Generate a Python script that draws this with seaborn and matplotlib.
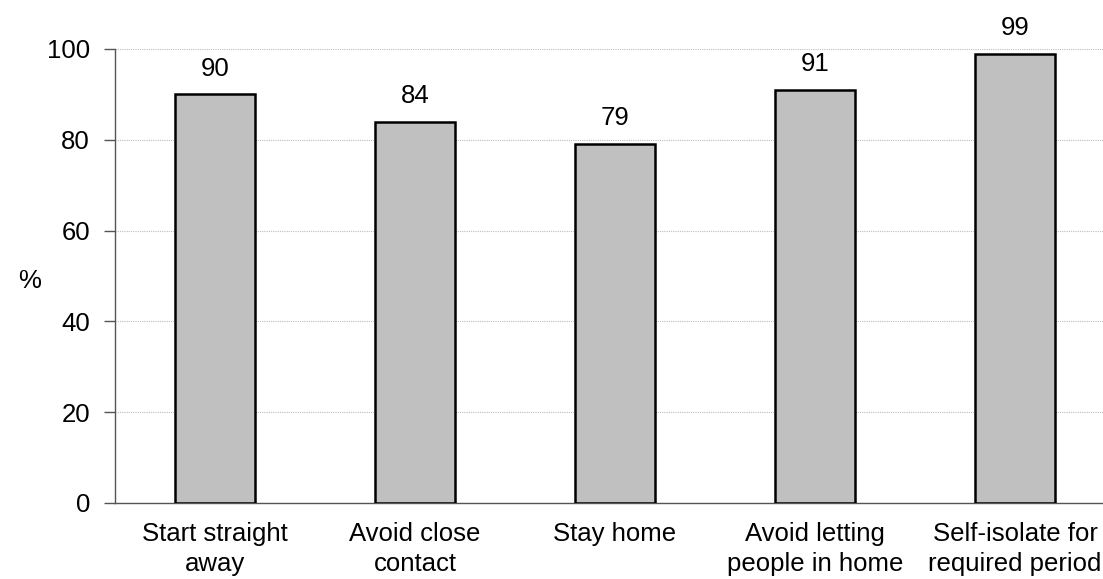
import matplotlib
matplotlib.use("Agg")
import matplotlib.pyplot as plt
import seaborn as sns
import pandas as pd
import numpy as np

categories = ["Start straight\naway", "Avoid close\ncontact", "Stay home",
              "Avoid letting\npeople in home", "Self-isolate for\nrequired period"]
values = [90, 84, 79, 91, 99]
yticks = [0, 20, 40, 60, 80, 100]

sns.set_theme(style="white")
plt.rcParams['font.family'] = ['Liberation Sans', 'DejaVu Sans']

FS = 18.5
df = pd.DataFrame({"cat": categories, "val": values})

fig = plt.figure(figsize=(11.03, 5.79), dpi=100)
ax = fig.add_axes([115/1103, 76/579, 1000/1103, 454/579])

sns.barplot(data=df, x="cat", y="val", color="#C0C0C0", edgecolor="black",
            linewidth=1.8, width=0.4, saturation=1, ax=ax, zorder=3)

ax.set_xlim(-0.5, len(categories) - 0.5)
ax.set_ylim(0, 100)
ax.set_yticks(yticks)
ax.set_yticklabels([str(t) for t in yticks], fontsize=FS, color="black")
ax.yaxis.grid(True, linestyle=(0, (1, 1)), color="#BDBDBD", linewidth=0.8, zorder=0)
ax.set_axisbelow(True)

ax.set_xlabel("")
ax.set_ylabel("%", rotation=0, fontsize=FS, color="black", labelpad=0, va="center")
ax.yaxis.set_label_coords(-0.085, 0.49)

ax.tick_params(axis="x", which="major", length=0, labelsize=FS, pad=14, colors="black")
for lbl in ax.get_xticklabels():
    lbl.set_linespacing(1.3)
ax.set_xticks(np.arange(-0.5, len(categories), 1.0), minor=True)
ax.tick_params(axis="x", which="minor", length=8, width=1, color="#555555", direction="out")
ax.tick_params(axis="y", length=8, width=1, color="#555555", direction="out", pad=10, left=True)

for side in ["top", "right"]:
    ax.spines[side].set_visible(False)
for side in ["left", "bottom"]:
    ax.spines[side].set_color("#555555")
    ax.spines[side].set_linewidth(1)

for c in ax.containers:
    ax.bar_label(c, labels=[str(v) for v in values], padding=10, fontsize=FS, color="black")

fig.savefig("out.png", dpi=100)
